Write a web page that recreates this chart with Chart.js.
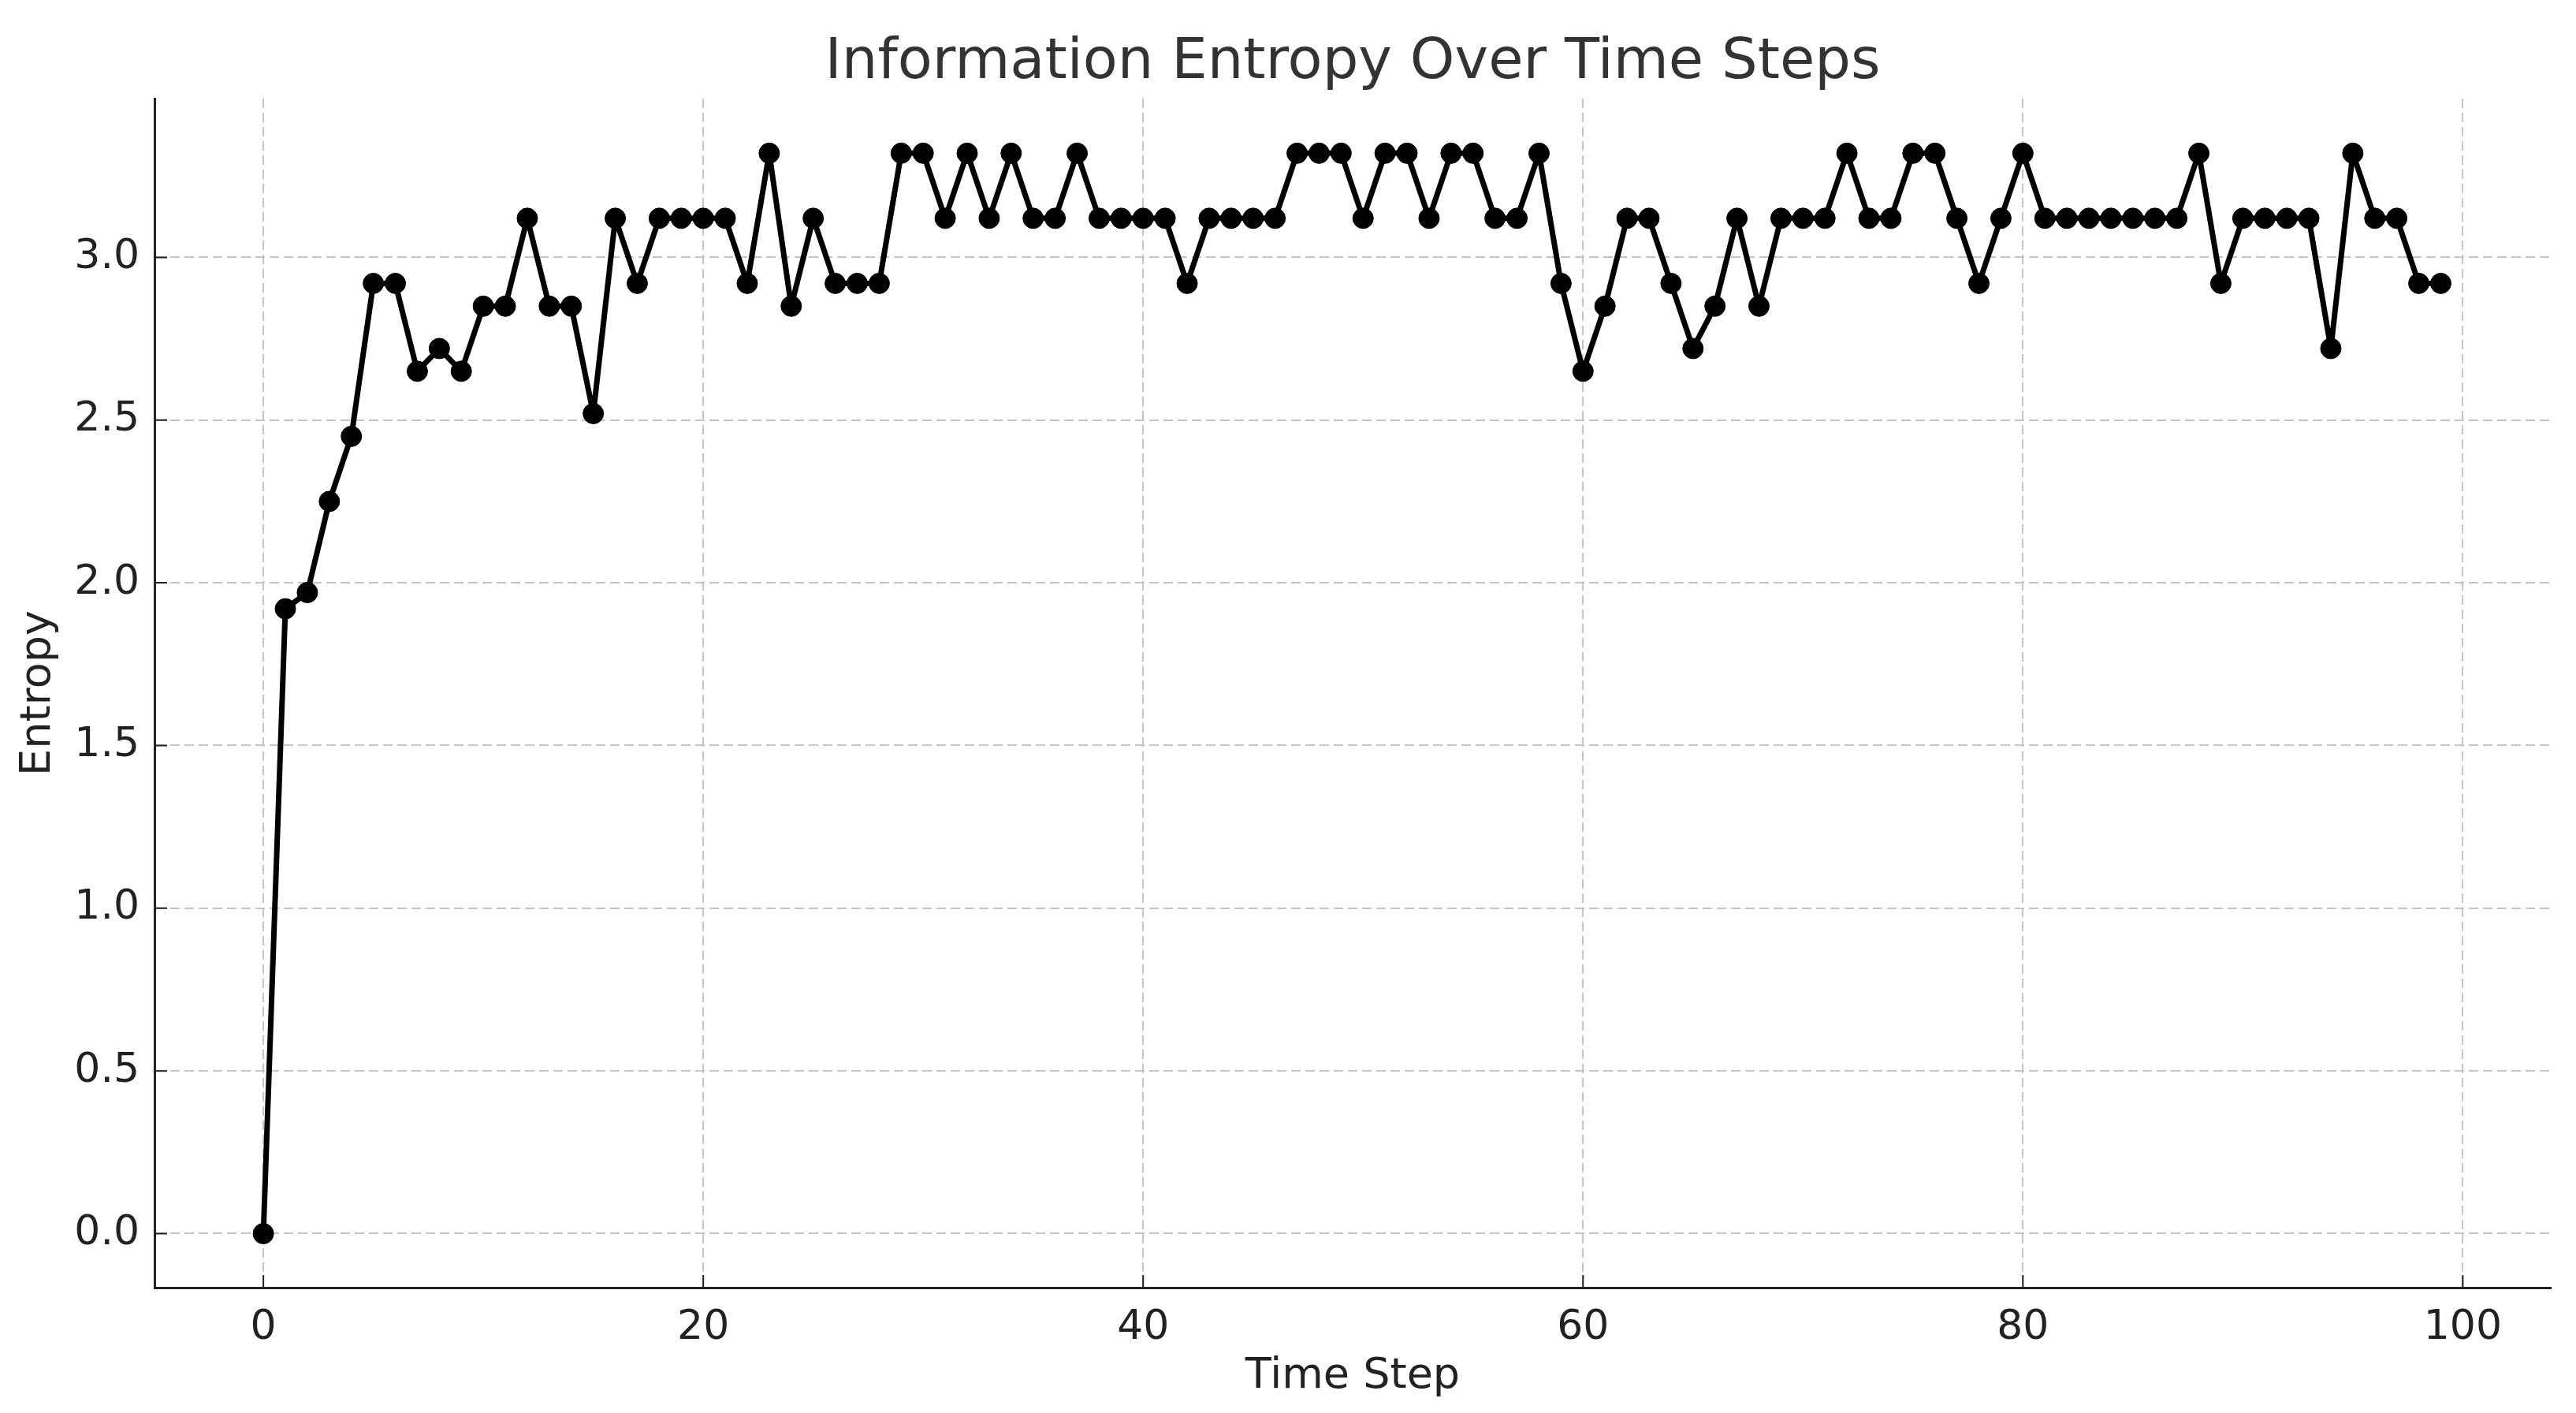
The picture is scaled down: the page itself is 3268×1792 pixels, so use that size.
<!DOCTYPE html>
<html>
<head>
<meta charset="utf-8">
<title>Information Entropy Over Time Steps</title>
<script src="https://cdn.jsdelivr.net/npm/chart.js@4.4.1/dist/chart.umd.min.js"></script>
<style>
    html, body { margin: 0; padding: 0; background: #fff; }
    #entropyChart { display: block; }
</style>
</head>
<body>
<canvas id="entropyChart" width="3268" height="1792"></canvas>
<script>
// Data
const timeSteps = [
    0, 1, 2, 3, 4, 5, 6, 7, 8, 9,
    10, 11, 12, 13, 14, 15, 16, 17, 18, 19,
    20, 21, 22, 23, 24, 25, 26, 27, 28, 29,
    30, 31, 32, 33, 34, 35, 36, 37, 38, 39,
    40, 41, 42, 43, 44, 45, 46, 47, 48, 49,
    50, 51, 52, 53, 54, 55, 56, 57, 58, 59,
    60, 61, 62, 63, 64, 65, 66, 67, 68, 69,
    70, 71, 72, 73, 74, 75, 76, 77, 78, 79,
    80, 81, 82, 83, 84, 85, 86, 87, 88, 89,
    90, 91, 92, 93, 94, 95, 96, 97, 98, 99
];
const entropyValues = [
    0, 1.92, 1.97, 2.25, 2.45, 2.92, 2.92, 2.65, 2.72, 2.65,
    2.85, 2.85, 3.12, 2.85, 2.85, 2.52, 3.12, 2.92, 3.12, 3.12,
    3.12, 3.12, 2.92, 3.32, 2.85, 3.12, 2.92, 2.92, 2.92, 3.32,
    3.32, 3.12, 3.32, 3.12, 3.32, 3.12, 3.12, 3.32, 3.12, 3.12,
    3.12, 3.12, 2.92, 3.12, 3.12, 3.12, 3.12, 3.32, 3.32, 3.32,
    3.12, 3.32, 3.32, 3.12, 3.32, 3.32, 3.12, 3.12, 3.32, 2.92,
    2.65, 2.85, 3.12, 3.12, 2.92, 2.72, 2.85, 3.12, 2.85, 3.12,
    3.12, 3.12, 3.32, 3.12, 3.12, 3.32, 3.32, 3.12, 2.92, 3.12,
    3.32, 3.12, 3.12, 3.12, 3.12, 3.12, 3.12, 3.12, 3.32, 2.92,
    3.12, 3.12, 3.12, 3.12, 2.72, 3.32, 3.12, 3.12, 2.92, 2.92
];
const xTickValues = [0, 20, 40, 60, 80, 100];
const yTickValues = [0, 0.5, 1.0, 1.5, 2.0, 2.5, 3.0];

const FONT = "'DejaVu Sans', sans-serif";
const GRID_COLOR = '#c4c4c8';

// matplotlib-style inward tick marks on the two spines
const innerTicks = {
    id: 'innerTicks',
    afterDraw(chart) {
        const ctx = chart.ctx;
        const area = chart.chartArea;
        const xs = chart.scales.x;
        const ys = chart.scales.y;
        ctx.save();
        ctx.strokeStyle = '#222';
        ctx.lineWidth = 2;
        ctx.beginPath();
        xTickValues.forEach(v => {
            const px = xs.getPixelForValue(v);
            ctx.moveTo(px, area.bottom);
            ctx.lineTo(px, area.bottom - 16);
        });
        yTickValues.forEach(v => {
            const py = ys.getPixelForValue(v);
            ctx.moveTo(area.left, py);
            ctx.lineTo(area.left + 16, py);
        });
        ctx.stroke();
        ctx.restore();
    }
};

window.addEventListener('DOMContentLoaded', () => {
    const ctx = document.getElementById('entropyChart').getContext('2d');
    const points = timeSteps.map((t, i) => ({ x: t, y: entropyValues[i] }));

    new Chart(ctx, {
        type: 'line',
        data: {
            datasets: [{
                label: 'Entropy',
                data: points,
                borderColor: '#000',
                backgroundColor: '#000',
                borderWidth: 7,
                borderJoinStyle: 'round',
                borderCapStyle: 'round',
                pointRadius: 13,
                pointBorderWidth: 1,
                pointBackgroundColor: '#000',
                pointBorderColor: '#000',
                tension: 0,
                fill: false
            }]
        },
        options: {
            responsive: false,
            animation: false,
            layout: { padding: { left: 0, right: 32, top: 0, bottom: 0 } },
            plugins: {
                legend: { display: false },
                tooltip: { enabled: false },
                title: {
                    display: true,
                    text: 'Information Entropy Over Time Steps',
                    color: '#333',
                    fullSize: false,
                    font: { family: FONT, size: 72, weight: 'normal' },
                    padding: { top: 37, bottom: 1.6 }
                }
            },
            scales: {
                x: {
                    type: 'linear',
                    min: -4.95,
                    max: 104,
                    afterBuildTicks: s => { s.ticks = xTickValues.map(v => ({ value: v })); },
                    afterFit: s => { s.height = 159; },
                    grid: {
                        color: GRID_COLOR,
                        lineWidth: 2,
                        drawTicks: false
                    },
                    border: { display: true, color: '#222', width: 3, dash: [12, 6] },
                    ticks: {
                        color: '#222',
                        padding: 20,
                        font: { family: FONT, size: 52 },
                        maxRotation: 0,
                        callback: v => String(v)
                    },
                    title: {
                        display: true,
                        text: 'Time Step',
                        color: '#222',
                        font: { family: FONT, size: 54 },
                        padding: { top: 0, bottom: 14 }
                    }
                },
                y: {
                    type: 'linear',
                    min: -0.166,
                    max: 3.488,
                    afterBuildTicks: s => { s.ticks = yTickValues.map(v => ({ value: v })); },
                    afterFit: s => { s.width = 196; },
                    grid: {
                        color: GRID_COLOR,
                        lineWidth: 2,
                        drawTicks: false
                    },
                    border: { display: true, color: '#222', width: 3, dash: [12, 6] },
                    ticks: {
                        color: '#222',
                        padding: 19,
                        font: { family: FONT, size: 52 },
                        callback: v => Number(v).toFixed(1)
                    },
                    title: {
                        display: true,
                        text: 'Entropy',
                        color: '#222',
                        font: { family: FONT, size: 54 },
                        padding: { top: 17, bottom: 0 }
                    }
                }
            }
        },
        plugins: [innerTicks]
    });
});
</script>
</body>
</html>
